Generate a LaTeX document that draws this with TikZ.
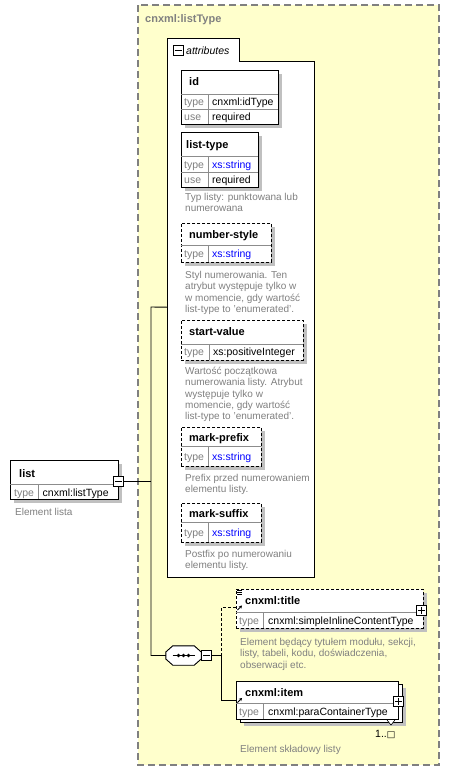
\documentclass[tikz,border=0pt]{standalone}
\usepackage{fontspec}
\setmainfont{Liberation Sans}
\newfontfamily\symbolfont{DejaVu Sans}
\usetikzlibrary{shadows,arrows.meta}
\definecolor{areafill}{HTML}{FFFFCC}
\definecolor{arealine}{HTML}{808080}
\definecolor{shade}{HTML}{C0C0C0}
\definecolor{note}{HTML}{808080}
\definecolor{xsblue}{HTML}{0000FF}
\definecolor{grid}{HTML}{8C8C8C}

% small expand/collapse buttons
\newcommand\drawminus[1]{\draw[line width=1pt] ([xshift=2pt]#1.west) -- ([xshift=-2pt]#1.east);}
\newcommand\drawplus[1]{\drawminus{#1}\draw[line width=1pt] ([yshift=2pt]#1.south) -- ([yshift=-2pt]#1.north);}
% "reference" arrow in the lower left corner of an element title
\newcommand\refarrow[2]{\draw[line width=0.9pt,-{Stealth[length=3pt,width=3.4pt]}] (#1,#2) -- (#1+4.5,#2-4.5);}
% octagonal outline of a compositor node
\newcommand\octopath[1]{([yshift=3.5pt]#1.west) -- ([xshift=7pt]#1.north west) -- ([xshift=-7pt]#1.north east) -- ([yshift=3.5pt]#1.east) -- ([yshift=-3.5pt]#1.east) -- ([xshift=-7pt]#1.south east) -- ([xshift=7pt]#1.south west) -- ([yshift=-3.5pt]#1.west) -- cycle}

\begin{document}
\begin{tikzpicture}[x=1pt,y=-1pt,
  shade4/.style={drop shadow={shadow xshift=4pt,shadow yshift=-4pt,fill=shade,opacity=1}},
  elbox/.style={rectangle,draw=black,fill=white,line width=0.9pt,inner sep=0pt,anchor=north west},
  optional/.style={dash pattern=on 3pt off 2pt},
  divider/.style={draw=grid,line width=0.7pt},
  ttl/.style={font=\bfseries\fontsize{11}{13}\selectfont,inner sep=0pt,anchor=base west},
  lbl/.style={font=\fontsize{10.5}{12}\selectfont,text=note,inner sep=0pt,anchor=base west},
  val/.style={font=\fontsize{10.5}{12}\selectfont,inner sep=0pt,anchor=base west},
  xsval/.style={val,text=xsblue},
  desc/.style={font=\fontsize{10}{11.4}\selectfont,text=note,inner sep=0pt,anchor=north west,align=left},
  pm/.style={rectangle,draw=black,fill=white,line width=1pt,minimum size=10pt,inner sep=0pt},
  wire/.style={draw=black,line width=0.9pt},
]
\useasboundingbox (0,0) rectangle (450,771);
\fill[white] (0,0) rectangle (450,771);

% complex type area
\draw[fill=areafill,draw=arealine,line width=1.2pt,dash pattern=on 7pt off 4pt] (138,5) rectangle (439,765);
\node[font=\bfseries\fontsize{11}{13}\selectfont,text=note,inner sep=0pt,anchor=base west] (typename) at (145,23) {cnxml:listType};

% attribute group with its tab
\node[inner sep=0pt,minimum width=147pt,minimum height=516pt,anchor=north west] (attrs) at (167,61) {};
\draw[fill=white,draw=black,line width=0.9pt] (attrs.south west) -- (167,38) -- (239,38) -- (239,61) -- (attrs.north east) -- (attrs.south east) -- cycle;
\node[pm,minimum size=10pt] (attrsm) at (178,50) {};
\drawminus{attrsm}
\node[font=\itshape\fontsize{10.5}{12}\selectfont,inner sep=0pt,anchor=base west] (attrslabel) at (186,54) {attributes};

% id
\node[elbox,shade4,minimum width=97pt,minimum height=54pt] (id) at (181,70) {};
\draw[divider] (181,94) -- (278,94) (181,109) -- (278,109) (208,94) -- (208,124);
\node[ttl] (idt) at (189,85.5) {id};
\node[lbl] (idk1) at (184,105.5) {type};
\node[val] (idv1) at (212,105.5) {cnxml:idType};
\node[lbl] (idk2) at (184,120.5) {use};
\node[val] (idv2) at (212,120.5) {required};

% list-type
\node[elbox,shade4,minimum width=77pt,minimum height=55pt] (lt) at (181,132) {};
\draw[divider] (181,156) -- (258,156) (181,172) -- (258,172) (208,156) -- (208,187);
\node[ttl] (ltt) at (186,148) {list-type};
\node[lbl] (ltk1) at (184,168) {type};
\node[xsval] (ltv1) at (212,168) {xs:string};
\node[lbl] (ltk2) at (184,183.5) {use};
\node[val] (ltv2) at (212,183.5) {required};
\node[desc] (ltd) at (185,192) {\rule{0pt}{8pt}Typ listy: punktowana lub\\numerowana};

% number-style
\node[elbox,optional,shade4,minimum width=90pt,minimum height=39pt] (ns) at (181,223) {};
\draw[divider] (181,245) -- (271,245) (208,245) -- (208,262);
\node[ttl] (nst) at (189,238) {number-style};
\node[lbl] (nsk) at (184,257.5) {type};
\node[xsval] (nsv) at (212,257.5) {xs:string};
\node[desc] (nsd) at (185,270) {\rule{0pt}{8pt}Styl numerowania. Ten\\atrybut występuje tylko w\\w momencie, gdy wartość\\list-type to 'enumerated'.};

% start-value
\node[elbox,optional,shade4,minimum width=122pt,minimum height=40pt] (sv) at (181,320) {};
\draw[divider] (181,344) -- (303,344) (209,344) -- (209,360);
\node[ttl] (svt) at (189,335.5) {start-value};
\node[lbl] (svk) at (184,355.5) {type};
\node[val] (svv) at (213,355.5) {xs:positiveInteger};
\node[desc] (svd) at (185,366) {\rule{0pt}{8pt}Wartość początkowa\\numerowania listy. Atrybut\\występuje tylko w\\momencie, gdy wartość\\list-type to 'enumerated'.};

% mark-prefix
\node[elbox,optional,shade4,minimum width=80pt,minimum height=39pt] (mp) at (181,427) {};
\draw[divider] (181,446) -- (261,446) (208,446) -- (208,466);
\node[ttl] (mpt) at (189,441) {mark-prefix};
\node[lbl] (mpk) at (184,460.5) {type};
\node[xsval] (mpv) at (212,460.5) {xs:string};
\node[desc] (mpd) at (185,473) {\rule{0pt}{8pt}Prefix przed numerowaniem\\elementu listy.};

% mark-suffix
\node[elbox,optional,shade4,minimum width=80pt,minimum height=39pt] (ms) at (181,503) {};
\draw[divider] (181,522) -- (261,522) (208,522) -- (208,542);
\node[ttl] (mst) at (189,517) {mark-suffix};
\node[lbl] (msk) at (184,536.5) {type};
\node[xsval] (msv) at (212,536.5) {xs:string};
\node[desc] (msd) at (185,549) {\rule{0pt}{8pt}Postfix po numerowaniu\\elementu listy.};

% root element
\node[elbox,shade4,minimum width=108pt,minimum height=39pt] (list) at (10,460) {};
\draw[divider] (10,484) -- (118,484) (38,484) -- (38,499);
\node[ttl] (listt) at (19,477) {list};
\node[lbl] (listk) at (14,496) {type};
\node[val] (listv) at (42.5,496) {cnxml:listType};
\node[desc] (listd) at (15,507) {\rule{0pt}{8pt}Element lista};
\node[pm] (listm) at (118.5,481) {};
\drawminus{listm}

% sequence compositor
\node[inner sep=0pt,minimum width=35pt,minimum height=19pt] (seq) at (183.5,655.5) {};
\fill[shade,shift={(4,4)}] \octopath{seq};
\draw[fill=white,line width=0.9pt] \octopath{seq};
\draw[line width=0.9pt] ([xshift=-11pt]seq.center) -- ([xshift=11pt]seq.center);
\foreach \dx in {-5,0,5} \fill ([xshift=\dx pt]seq.center) circle (1.8);
\node[pm] (seqm) at (206.5,655.5) {};
\drawminus{seqm}

% cnxml:title
\node[elbox,optional,shade4,minimum width=187pt,minimum height=39pt] (title) at (236,589) {};
\draw[divider] (236,612) -- (423,612) (263,612) -- (263,628);
\draw[line width=0.6pt] (237,590) -- (242,590) (237,592.3) -- (242,592.3) (237,594.6) -- (242,594.6);
\refarrow{237.5}{610}
\node[ttl] (titlet) at (245,604.5) {cnxml:title};
\node[lbl] (titlek) at (239,624) {type};
\node[val] (titlev) at (268,624) {cnxml:simpleInlineContentType};
\node[pm] (titlep) at (421.5,610) {};
\drawplus{titlep}
\node[desc] (titled) at (240,637) {\rule{0pt}{8pt}Element będący tytułem modułu, sekcji,\\listy, tabeli, kodu, doświadczenia,\\obserwacji etc.};

% cnxml:item (repeated element: stacked frames)
\node[elbox,shade4,minimum width=162pt,minimum height=38pt] (itemback) at (239.5,684) {};
\node[elbox,minimum width=162pt,minimum height=38pt] (item) at (236,681) {};
\draw[divider] (236,703) -- (398,703) (263,703) -- (263,719);
\refarrow{237.5}{702.5}
\node[ttl] (itemt) at (245,696) {cnxml:item};
\node[lbl] (itemk) at (239,715) {type};
\node[val] (itemv) at (268,715) {cnxml:paraContainerType};
\node[pm] (itemp) at (398.5,701) {};
\drawplus{itemp}
\draw[line width=0.6pt,fill=white] (387,720) -- (391,725) -- (395,720);
\node[val,font=\fontsize{10.5}{12}\selectfont] (itemocc) at (375,737) {1..{\symbolfont\fontsize{9}{10}\selectfont □}};
\node[desc] (itemd) at (240,744) {\rule{0pt}{8pt}Element składowy listy};

% connectors
\coordinate (busTop) at (151,307);
\coordinate (busBot) at (151,655.5);
\coordinate (fork) at (221,655.5);
\draw[wire] (listm.east) -- (listm.east -| busTop);
\draw[wire] ([yshift=12pt]attrs.west) -- (busTop) -- (busBot) -- (seq.west);
\draw[wire] (seqm.east) -- (fork);
\draw[wire,dash pattern=on 3pt off 2pt] (fork) |- ([yshift=1.5pt]title.west);
\draw[wire] (fork) |- (item.west);
\end{tikzpicture}
\end{document}
